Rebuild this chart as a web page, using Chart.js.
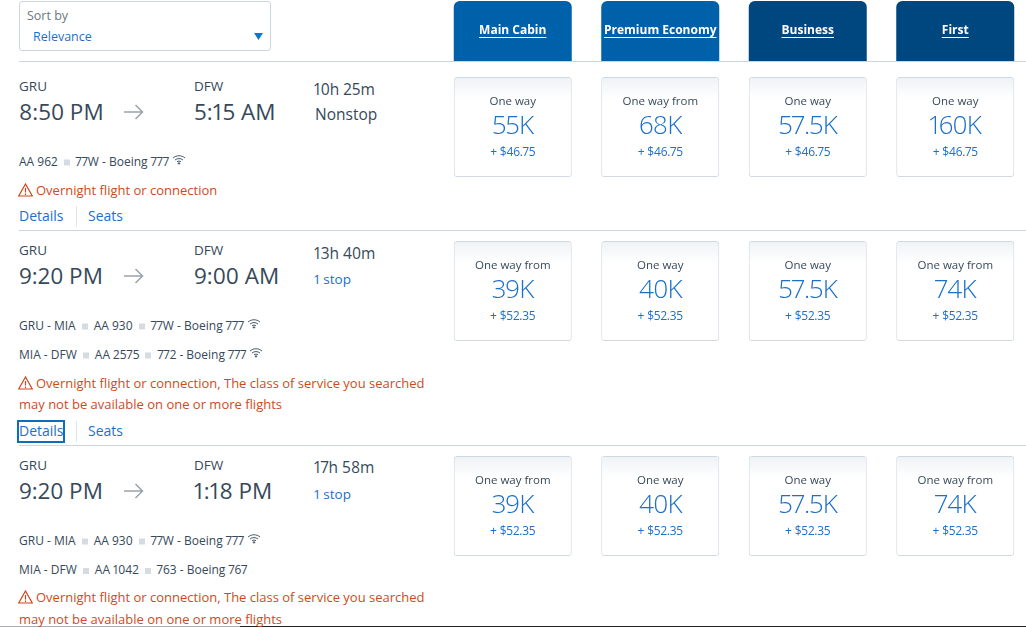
<!DOCTYPE html>
<html>
<head>
<meta charset="utf-8">
<title>Flights</title>
<script src="https://cdn.jsdelivr.net/npm/chart.js@4"></script>
<style>
html, body { margin: 0; padding: 0; width: 1026px; height: 627px; overflow: hidden; background: #fff; }
body { position: relative; font-family: "Open Sans", sans-serif; color: #36495a; font-variant-numeric: proportional-nums; }
canvas { position: absolute; }
.t { position: absolute; white-space: nowrap; line-height: 1; transform: translateY(-50%); }
.rule { position: absolute; left: 19px; right: 0; height: 1px; background: #ccd6df; }
.sq { display: inline-block; width: 6px; height: 6px; background: #d5dbe1; margin: 0 6px 0 6px; vertical-align: 0; }
.wifi { margin-left: 3px; vertical-align: 1px; }
</style>
</head>
<body>
<div class="t" style="left:27px;top:16px;font-size:12.5px;color:#6c7781">Sort by</div>
<div class="t" style="left:33px;top:37px;font-size:12.5px;color:#1c6fca">Relevance</div>
<div style="position:absolute;left:19px;top:1px;width:250px;height:48px;border:1px solid #ccd6df;border-radius:3px"></div>
<svg style="position:absolute;left:254px;top:33px" width="9" height="7"><path d="M0 0H9L4.5 7Z" fill="#0e78c8"/></svg>
<canvas id="tabs" width="590" height="61" style="left:439px;top:0"></canvas>
<canvas id="row0" width="590" height="102" style="left:439px;top:76px"></canvas>
<canvas id="row1" width="590" height="102" style="left:439px;top:240px"></canvas>
<canvas id="row2" width="590" height="102" style="left:439px;top:455px"></canvas>
<div style="position:absolute;left:0;right:0;top:626px;height:1px;background:#aab"></div>
<div style="position:absolute;left:240px;right:0;top:626px;height:1px;background:#222"></div>
<script>
const cabins = ["Main Cabin", "Premium Economy", "Business", "First"];
const tabColors = ["#0061ab", "#0061ab", "#00467f", "#00467f"];

const fares0 = [55, 68, 57.5, 160];
const fares1 = [39, 40, 57.5, 74];
const fares2 = [39, 40, 57.5, 74];
const taxes0 = [46.75, 46.75, 46.75, 46.75];
const taxes1 = [52.35, 52.35, 52.35, 52.35];
const taxes2 = [52.35, 52.35, 52.35, 52.35];
const fromFlags0 = [false, true, false, false];
const fromFlags1 = [true, false, false, true];
const fromFlags2 = [true, false, false, true];

const warnShort = "Overnight flight or connection";
const warnLong = "Overnight flight or connection, The class of service you searched";
const warnLong2 = "may not be available on one or more flights";

const wifiSvg = '<svg class="wifi" width="14" height="10" viewBox="0 0 14 10" fill="none" stroke="#4a5a68" stroke-width="1"><path d="M1 3.500C4.500.5 9.500.5 13 3.500M3 5.500C5.300 3.600 8.700 3.600 11 5.500M5 7.300C6.200 6.400 7.800 6.400 9 7.300"/><circle cx="7" cy="9" r=".8" fill="#4a5a68"/></svg>';
const sq = '<span class="sq"></span>';

function put(html, x, y, size, color, weight) {
    const d = document.createElement("div");
    d.className = "t";
    d.style.left = x + "px";
    d.style.top = y + "px";
    d.style.fontSize = size + "px";
    d.style.color = color || "#36495a";
    if (weight) d.style.fontWeight = weight;
    d.innerHTML = html;
    document.body.appendChild(d);
}

function rule(y) {
    const d = document.createElement("div");
    d.className = "rule";
    d.style.top = y + "px";
    document.body.appendChild(d);
}

function arrow(y) {
    document.body.insertAdjacentHTML("beforeend",
        '<svg style="position:absolute;left:124px;top:' + (y - 8) + 'px" width="20" height="16" fill="none" stroke="#9aa3ab" stroke-width="1.500"><path d="M0 8H18.500M11.500 1L18.500 8L11.500 15"/></svg>');
}

function warn(y, text) {
    document.body.insertAdjacentHTML("beforeend",
        '<svg style="position:absolute;left:18px;top:' + (y - 7) + 'px" width="15" height="14" fill="none" stroke="#d0421b" stroke-width="1.200"><path d="M7.500 1L14.300 13H.7Z"/><path d="M7.500 5V9.500M7.500 10.500V12"/></svg>');
    put(text, 36, y, 13, "#cf4a1c");
}

function links(y) {
    put("Details", 19, y, 14, "#1c6fca");
    put("Seats", 88, y, 14, "#1c6fca");
    document.body.insertAdjacentHTML("beforeend",
        '<div style="position:absolute;left:76px;top:' + (y - 10) + 'px;width:1px;height:21px;background:#dfe5ea"></div>');
}

[61, 230, 445].forEach(rule);

put("GRU", 19, 87, 13.500);
put("8:50 PM", 19, 111.5, 22.5);
arrow(112);
put("DFW", 194, 87, 13.500);
put("5:15 AM", 194, 111.5, 22.5);
put("10h 25m", 314, 90, 15.500);
put("Nonstop", 315, 115, 15.500);
put("AA 962" + sq + "77W - Boeing 777" + wifiSvg, 19, 161, 12);
warn(190, warnShort);
links(216);

put("GRU", 19, 251, 13.500);
put("9:20 PM", 19, 275.5, 22.5);
arrow(276);
put("DFW", 194, 251, 13.500);
put("9:00 AM", 194, 275.5, 22.5);
put("13h 40m", 314, 254, 15.500);
put("1 stop", 314, 280, 13.500, "#1c6fca");
put("GRU - MIA" + sq + "AA 930" + sq + "77W - Boeing 777" + wifiSvg, 19, 325, 12);
put("MIA - DFW" + sq + "AA 2575" + sq + "772 - Boeing 777" + wifiSvg, 19, 354, 12);
warn(383, warnLong);
put(warnLong2, 19, 404, 13, "#cf4a1c");
links(431);
document.body.insertAdjacentHTML("beforeend",
    '<div style="position:absolute;left:17px;top:420px;width:44px;height:19px;border:2px solid #0a6fc2"></div>');

put("GRU", 19, 466, 13.500);
put("9:20 PM", 19, 490.5, 22.5);
arrow(491);
put("DFW", 194, 466, 13.500);
put("1:18 PM", 194, 490.5, 22.5);
put("17h 58m", 314, 468, 15.500);
put("1 stop", 314, 495, 13.500, "#1c6fca");
put("GRU - MIA" + sq + "AA 930" + sq + "77W - Boeing 777" + wifiSvg, 19, 540, 12);
put("MIA - DFW" + sq + "AA 1042" + sq + "763 - Boeing 767", 19, 569.5, 12);
warn(597, warnLong);
put(warnLong2, 19, 619, 13, "#cf4a1c");

const cardText = {
    id: "cardText",
    afterDatasetsDraw(chart) {
        const ds = chart.data.datasets[0];
        const ctx = chart.ctx;
        const top = chart.chartArea.top;
        ctx.save();
        ctx.textAlign = "center";
        ctx.textBaseline = "middle";
        ds.fares.forEach(function (f, i) {
            const x = chart.scales.x.getPixelForValue(i);
            ctx.fillStyle = "#36495a";
            ctx.letterSpacing = "0px";
            ctx.font = "11.5px 'Open Sans'";
            ctx.fillText(ds.fromFlags[i] ? "One way from" : "One way", x, top + 25);
            ctx.fillStyle = "#1c6fca";
            ctx.letterSpacing = "-0.8px";
            ctx.font = "300 26px 'Open Sans'";
            ctx.fillText(f + "K", x, top + 49.5);
            ctx.letterSpacing = "-0.2px";
            ctx.font = "12px 'Open Sans'";
            ctx.fillText("+ $" + ds.taxes[i].toFixed(2), x, top + 75.5);
        });
        ctx.restore();
    },
};

const tabText = {
    id: "tabText",
    afterDatasetsDraw(chart) {
        const ctx = chart.ctx;
        ctx.save();
        ctx.textAlign = "center";
        ctx.textBaseline = "middle";
        ctx.fillStyle = "#ffffff";
        ctx.strokeStyle = "#ffffff";
        ctx.font = "bold 12px 'Open Sans'";
        chart.data.labels.forEach(function (c, i) {
            const x = chart.scales.x.getPixelForValue(i);
            const w = ctx.measureText(c).width;
            ctx.fillText(c, x, 31);
            ctx.beginPath();
            ctx.moveTo(x - w / 2, 37.5);
            ctx.lineTo(x + w / 2, 37.5);
            ctx.stroke();
        });
        ctx.restore();
    },
};

function baseOptions(pad) {
    return {
        responsive: false,
        animation: false,
        events: [],
        layout: { padding: pad },
        plugins: { legend: { display: false }, tooltip: { enabled: false } },
        scales: {
            x: { display: false },
            y: { display: false, min: 0, max: 1 },
        },
    };
}

function cardFill(context) {
    const area = context.chart.chartArea;
    if (!area) return "#fff";
    const g = context.chart.ctx.createLinearGradient(0, area.top, 0, area.top + 22);
    g.addColorStop(0, "#eff2f5");
    g.addColorStop(1, "#ffffff");
    return g;
}

function fareRow(id, fares, taxes, fromFlags) {
    new Chart(document.getElementById(id).getContext("2d"), {
        type: "bar",
        data: {
            labels: cabins,
            datasets: [{
                data: fares.map(function () { return [0, 1]; }),
                fares: fares,
                taxes: taxes,
                fromFlags: fromFlags,
                backgroundColor: cardFill,
                borderColor: "#cfd9e3",
                borderWidth: 1,
                borderSkipped: false,
                borderRadius: 3,
                barPercentage: 0.8,
                categoryPercentage: 1,
            }],
        },
        options: baseOptions({ top: 1, bottom: 1 }),
        plugins: [cardText],
    });
}

new Chart(document.getElementById("tabs").getContext("2d"), {
    type: "bar",
    data: {
        labels: cabins,
        datasets: [{
            data: cabins.map(function () { return [0, 1]; }),
            backgroundColor: tabColors,
            borderSkipped: "bottom",
            borderRadius: { topLeft: 6, topRight: 6, bottomLeft: 0, bottomRight: 0 },
            barPercentage: 0.8,
            categoryPercentage: 1,
        }],
    },
    options: baseOptions({ top: 1 }),
    plugins: [tabText],
});

fareRow("row0", fares0, taxes0, fromFlags0);
fareRow("row1", fares1, taxes1, fromFlags1);
fareRow("row2", fares2, taxes2, fromFlags2);
</script>
</body>
</html>
